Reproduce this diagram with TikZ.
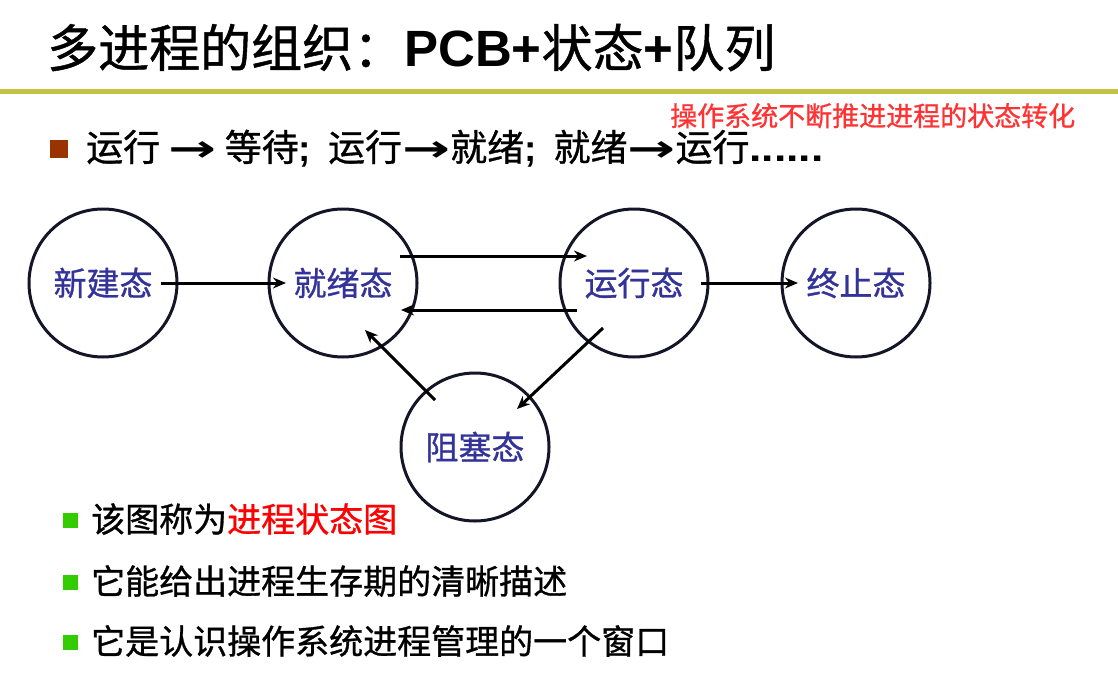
\documentclass[tikz,border=0pt]{standalone}
\usepackage{fontspec}
\setmainfont{Noto Sans CJK SC}[FakeBold=0.9]
\newfontfamily\lat{Liberation Sans}
\newfontfamily\djv{DejaVu Sans}
\usetikzlibrary{arrows.meta}
\definecolor{lineolive}{HTML}{C4C442}
\definecolor{statecol}{HTML}{333399}
\definecolor{notered}{HTML}{FF3333}
\definecolor{brownsq}{HTML}{993300}
\definecolor{greensq}{HTML}{33CC00}
\definecolor{circcol}{HTML}{151528}
\newcommand{\rarr}{\scalebox{1.55}[1]{\djv\bfseries →}}
\newcommand{\semi}{{\lat\bfseries ;}\hspace{17pt}}
\tikzset{
  statenode/.style={circle, draw=circcol, line width=3pt, minimum size=148pt, inner sep=0pt,
    text=statecol, font=\fontsize{33}{33}\selectfont},
  arr/.style={line width=3pt, -{Stealth[length=13pt,width=11pt]}},
  txt/.style={anchor=base west, inner sep=0pt},
}
\begin{document}
\begin{tikzpicture}[x=1pt,y=-1pt]
\path[use as bounding box] (0,0) rectangle (1118,682);
% title
\node[txt, font=\fontsize{51}{51}\selectfont] (title) at (47,67) {多进程的组织：{\lat\bfseries PCB+}状态{\lat\bfseries +}队列};
\fill[lineolive] (0,89.5) rectangle (1118,94.5);
% note
\node[txt, text=notered, font=\fontsize{27}{27}\selectfont] (note) at (670,126) {操作系统不断推进进程的状态转化};
% bullet line
\fill[brownsq] (50,140) rectangle (68,158);
\node[txt, font=\fontsize{37}{37}\selectfont] (b0) at (86,161) {运行 \rarr{} 等待\semi 运行\rarr{}就绪\semi 就绪\rarr{}运行\scalebox{1.2}[1]{\lat\bfseries ......}};
% states
\node[statenode] (new) at (103,283) {新建态};
\node[statenode] (ready) at (343,283) {就绪态};
\node[statenode] (run) at (634,283) {运行态};
\node[statenode] (term) at (856,283) {终止态};
\node[statenode] (block) at (475,447) {阻塞态};
% transitions
\draw[arr] ([xshift=58pt]new.center) -- ([xshift=-57pt]ready.center);
\draw[arr] ([xshift=57pt,yshift=27pt]ready.center) -- ([xshift=-47pt,yshift=27pt]run.center);
\draw[arr] ([xshift=-57pt,yshift=-27pt]run.center) -- ([xshift=58pt,yshift=-27pt]ready.center);
\draw[arr] ([xshift=67pt]run.center) -- ([xshift=-58pt]term.center);
\draw[arr] ([xshift=-31pt,yshift=-45pt]run.center) -- ([xshift=42pt,yshift=38pt]block.center);
\draw[arr] ([xshift=-40pt,yshift=47pt]block.center) -- ([xshift=22pt,yshift=-47pt]ready.center);
% bottom bullets
\fill[greensq] (63,513) rectangle (78,528);
\node[txt, font=\fontsize{34}{34}\selectfont] (b1) at (91,532) {该图称为\textcolor{red}{进程状态图}};
\fill[greensq] (63,575) rectangle (78,590);
\node[txt, font=\fontsize{34}{34}\selectfont] (b2) at (91,594) {它能给出进程生存期的清晰描述};
\fill[greensq] (63,635) rectangle (78,650);
\node[txt, font=\fontsize{34}{34}\selectfont] (b3) at (91,654) {它是认识操作系统进程管理的一个窗口};
\end{tikzpicture}
\end{document}
